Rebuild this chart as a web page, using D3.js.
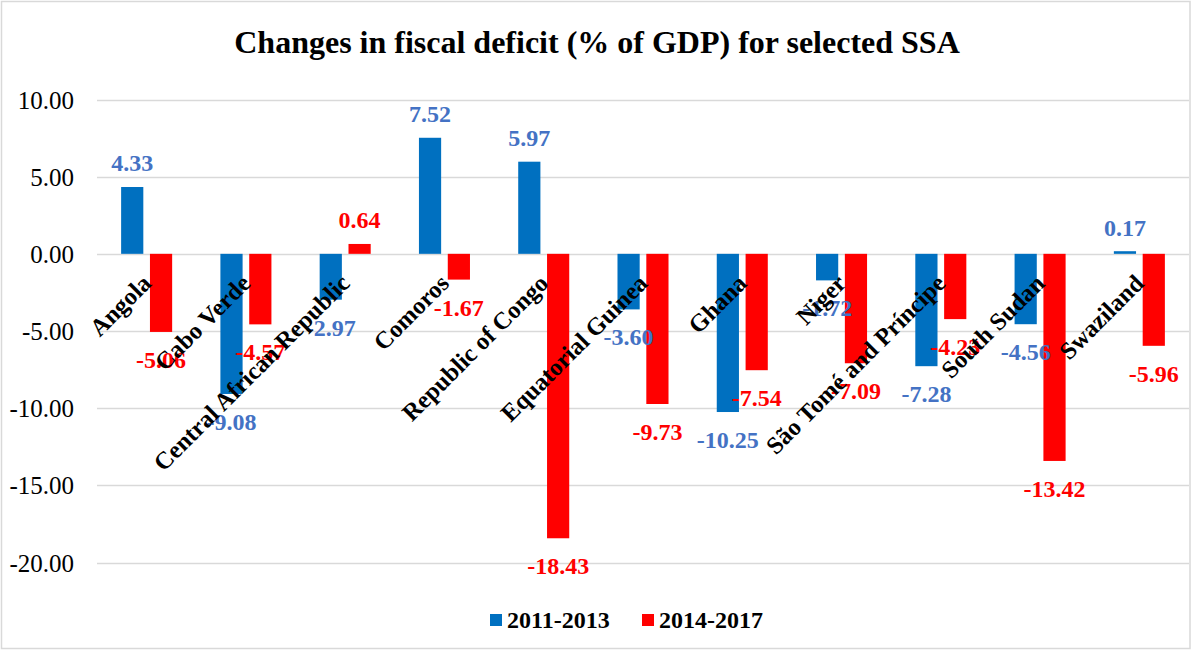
<!DOCTYPE html>
<html>
<head>
<meta charset="utf-8">
<script src="https://cdn.jsdelivr.net/npm/d3@7"></script>
<style>
  html, body { margin: 0; padding: 0; background: #fff; }
  svg { display: block; font-family: "Liberation Serif", "Times New Roman", serif; }
</style>
</head>
<body>
<svg id="chart" width="1192" height="651"></svg>
<script>
// Fiscal deficit change by country, two periods
const categories = ["Angola", "Cabo Verde", "Central African Republic", "Comoros",
  "Republic of Congo", "Equatorial Guinea", "Ghana", "Niger",
  "São Tomé and Príncipe", "South Sudan", "Swaziland"];
const seriesNames = ["2011-2013", "2014-2017"];
const values2011_2013 = [4.33, -9.08, -2.97, 7.52, 5.97, -3.60, -10.25, -1.72, -7.28, -4.56, 0.17];
const values2014_2017 = [-5.06, -4.57, 0.64, -1.67, -18.43, -9.73, -7.54, -7.09, -4.23, -13.42, -5.96];
const yTicks = [10, 5, 0, -5, -10, -15, -20];

const barColors = ["#0070C0", "#FF0000"];
const labelColors = ["#4472C4", "#FF0000"];

// plain hyphen for negative numbers
const fmt = d3.formatLocale({ decimal: ".", thousands: ",", grouping: [3], currency: ["", ""], minus: "-" }).format(".2f");

const svg = d3.select("#chart");
const plot = { left: 97, right: 1189, top: 99.5, bottom: 562.5 };

// outer frame
svg.append("rect")
  .attr("x", 1.5).attr("y", 1.5)
  .attr("width", 1188.5).attr("height", 647)
  .attr("fill", "#fff").attr("stroke", "#D9D9D9").attr("stroke-width", 1.5);

// title
svg.append("text")
  .attr("x", 597).attr("y", 53)
  .attr("text-anchor", "middle")
  .attr("font-weight", "bold").attr("font-size", 32)
  .attr("fill", "#000")
  .text("Changes in fiscal deficit (% of GDP) for selected SSA");

const y = d3.scaleLinear().domain([-20, 10]).range([plot.bottom, plot.top]);
const x0 = d3.scaleBand().domain(categories).range([plot.left, plot.right])
  .paddingInner(0.486).paddingOuter(0.243);
const x1 = d3.scaleBand().domain(seriesNames).range([0, x0.bandwidth()])
  .paddingInner(0.23);

// gridlines
svg.append("g")
  .selectAll("line").data(yTicks).join("line")
  .attr("x1", plot.left).attr("x2", plot.right)
  .attr("y1", d => Math.round(y(d)) + 0.5).attr("y2", d => Math.round(y(d)) + 0.5)
  .attr("stroke", "#D9D9D9").attr("stroke-width", 1.5);

// y axis tick labels
const yAxis = d3.axisLeft(y).tickValues(yTicks).tickFormat(fmt).tickSize(0).tickPadding(0);
const gy = svg.append("g").attr("transform", `translate(74,0)`).call(yAxis);
gy.select(".domain").remove();
gy.selectAll("text")
  .attr("font-family", "Liberation Serif, Times New Roman, serif")
  .attr("font-size", 25).attr("fill", "#000").attr("dy", "0.34em");

const rows = categories.map((c, i) => ({ cat: c, vals: [values2011_2013[i], values2014_2017[i]] }));

// bars
const groups = svg.append("g").selectAll("g").data(rows).join("g")
  .attr("transform", d => `translate(${x0(d.cat)},0)`);

groups.selectAll("rect")
  .data(d => d.vals.map((v, k) => ({ v, k })))
  .join("rect")
  .attr("x", d => x1(seriesNames[d.k]))
  .attr("width", x1.bandwidth())
  .attr("y", d => Math.min(y(d.v), y(0)))
  .attr("height", d => Math.abs(y(d.v) - y(0)))
  .attr("fill", d => barColors[d.k]);

// category labels, rotated at the zero line
svg.append("g").selectAll("text").data(categories).join("text")
  .attr("transform", c => `translate(${x0(c) + x0.bandwidth() / 2 + 6},${y(0) + 31}) rotate(-45)`)
  .attr("text-anchor", "end")
  .attr("font-weight", "bold").attr("font-size", 24.5)
  .attr("fill", "#000")
  .text(c => c);

// value labels
groups.selectAll("text.val")
  .data(d => d.vals.map((v, k) => ({ v, k })))
  .join("text")
  .attr("class", "val")
  .attr("x", d => x1(seriesNames[d.k]) + x1.bandwidth() / 2)
  .attr("y", d => d.v >= 0 ? y(d.v) - 24 : y(d.v) + 27.5)
  .attr("dy", "0.35em")
  .attr("text-anchor", "middle")
  .attr("font-weight", "bold").attr("font-size", 24)
  .attr("fill", d => labelColors[d.k])
  .text(d => fmt(d.v));

// legend
const legendItems = [{ name: seriesNames[0], x: 490 }, { name: seriesNames[1], x: 642 }];
const lg = svg.append("g").selectAll("g").data(legendItems).join("g")
  .attr("transform", d => `translate(${d.x},614)`);
lg.append("rect").attr("width", 12).attr("height", 12)
  .attr("fill", (d, i) => barColors[i]);
lg.append("text").attr("x", 17).attr("y", 6).attr("dy", "0.35em")
  .attr("font-weight", "bold").attr("font-size", 24).attr("fill", "#000")
  .text(d => d.name);
</script>
</body>
</html>
